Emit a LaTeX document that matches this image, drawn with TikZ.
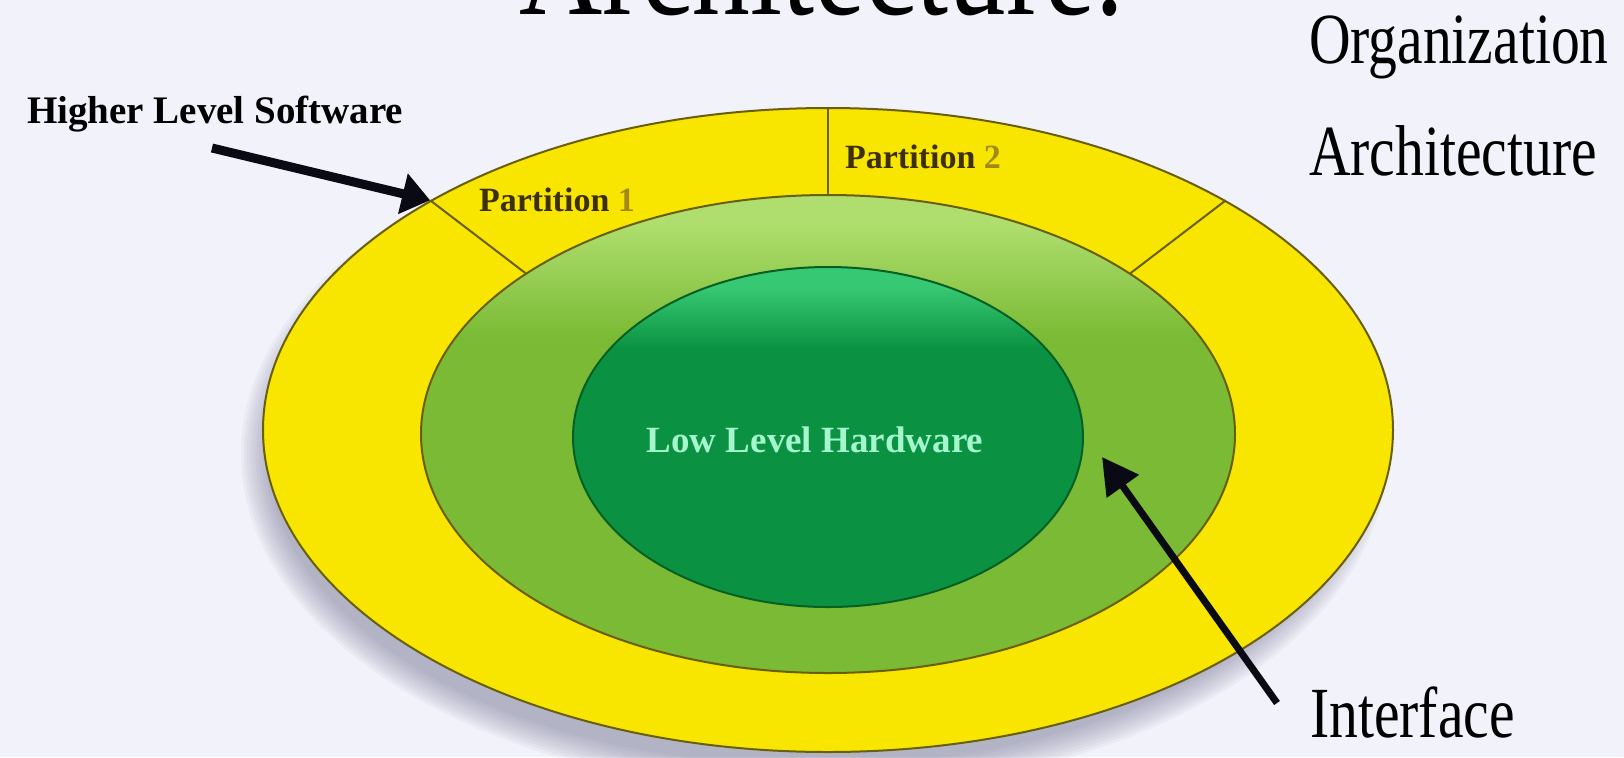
\documentclass[tikz,border=0pt]{standalone}
\usepackage{fontspec}
\setmainfont{Liberation Serif}
\newfontfamily\narrowserif[FakeStretch=0.8]{Liberation Serif}
\usetikzlibrary{shapes.geometric,arrows.meta}

\definecolor{pagebg}{RGB}{242,242,250}
\definecolor{shadowgrey}{RGB}{110,110,145}
\definecolor{ringyellow}{RGB}{248,229,0}
\definecolor{rimolive}{RGB}{105,95,10}
\definecolor{midhi}{RGB}{175,222,110}
\definecolor{midlo}{RGB}{122,186,52}
\definecolor{innerhi}{RGB}{55,200,115}
\definecolor{innerlo}{RGB}{10,146,66}
\definecolor{innerrim}{RGB}{8,95,35}
\definecolor{partink}{RGB}{60,48,0}
\definecolor{partnum}{RGB}{160,138,20}
\definecolor{hwmint}{RGB}{165,245,205}
\definecolor{arrowink}{RGB}{10,10,20}

\pgfdeclareverticalshading{midshade}{100bp}{color(0bp)=(midlo); color(60bp)=(midlo); color(72bp)=(midhi); color(100bp)=(midhi)}
\pgfdeclareverticalshading{innershade}{100bp}{color(0bp)=(innerlo); color(63bp)=(innerlo); color(72bp)=(innerhi); color(100bp)=(innerhi)}

\begin{document}
\begin{tikzpicture}[x=0.5pt,y=-0.5pt]

  \fill[pagebg] (0,0) rectangle (1624,757);
  \useasboundingbox (0,0) rectangle (1624,757);
  \clip (0,0) rectangle (1624,757);

  \foreach \r in {0,...,9}
    \fill[shadowgrey,opacity=0.06] (814,454) ellipse [x radius=546+3*\r, y radius=312+3*\r];

  \begin{scope}[every node/.style={ellipse,inner sep=0pt,line width=1pt}]
    \node[draw=rimolive,fill=ringyellow,minimum width=565pt,minimum height=322pt] (outer) at (828,430) {};
    \node[draw=rimolive,shading=midshade,minimum width=407pt,minimum height=239pt] (middle) at (828,434) {};
    \node[draw=innerrim,shading=innershade,minimum width=255pt,minimum height=170pt] (inner) at (828,437) {};
  \end{scope}

  \begin{scope}[rimolive,line width=1pt]
    \draw (outer.150) -- (middle.152);
    \draw (outer.90) -- (middle.90);
    \draw (outer.30) -- (middle.28);
  \end{scope}

  \begin{scope}[every node/.style={font=\bfseries\fontsize{17}{17}\selectfont,text=partink}]
    \node (part1) at (557,200) {Partition \textcolor{partnum}{1}};
    \node (part2) at (923,157) {Partition \textcolor{partnum}{2}};
  \end{scope}
  \node[font=\bfseries\fontsize{18.5}{18.5}\selectfont,text=hwmint] (hw) at (815,440) {Low Level Hardware};

  \node[anchor=base west,font=\bfseries\fontsize{19.5}{19.5}\selectfont] (hls) at (20,123) {Higher Level Software};

  \begin{scope}[every node/.style={anchor=base west,font=\narrowserif\fontsize{36}{36}\selectfont}]
    \node (org) at (1302,63) {Organization};
    \node (arch) at (1302,175) {Architecture};
    \node (iface) at (1303,737) {Interface};
  \end{scope}
  \node[anchor=base,font=\narrowserif\fontsize{72}{72}\selectfont] (title) at (822,14) {Architecture.};

  \coordinate (hlstail) at (212,148);
  \coordinate (iftail) at (1277,703);
  \coordinate (ifhead) at (1102,457);
  \draw[arrowink,line width=4.5pt,-{Triangle[length=14pt,width=20pt]}] (hlstail) -- (outer.150);
  \draw[arrowink,line width=3.5pt,-{Triangle[length=18pt,width=19pt]}] (iftail) -- (ifhead);

\end{tikzpicture}
\end{document}
